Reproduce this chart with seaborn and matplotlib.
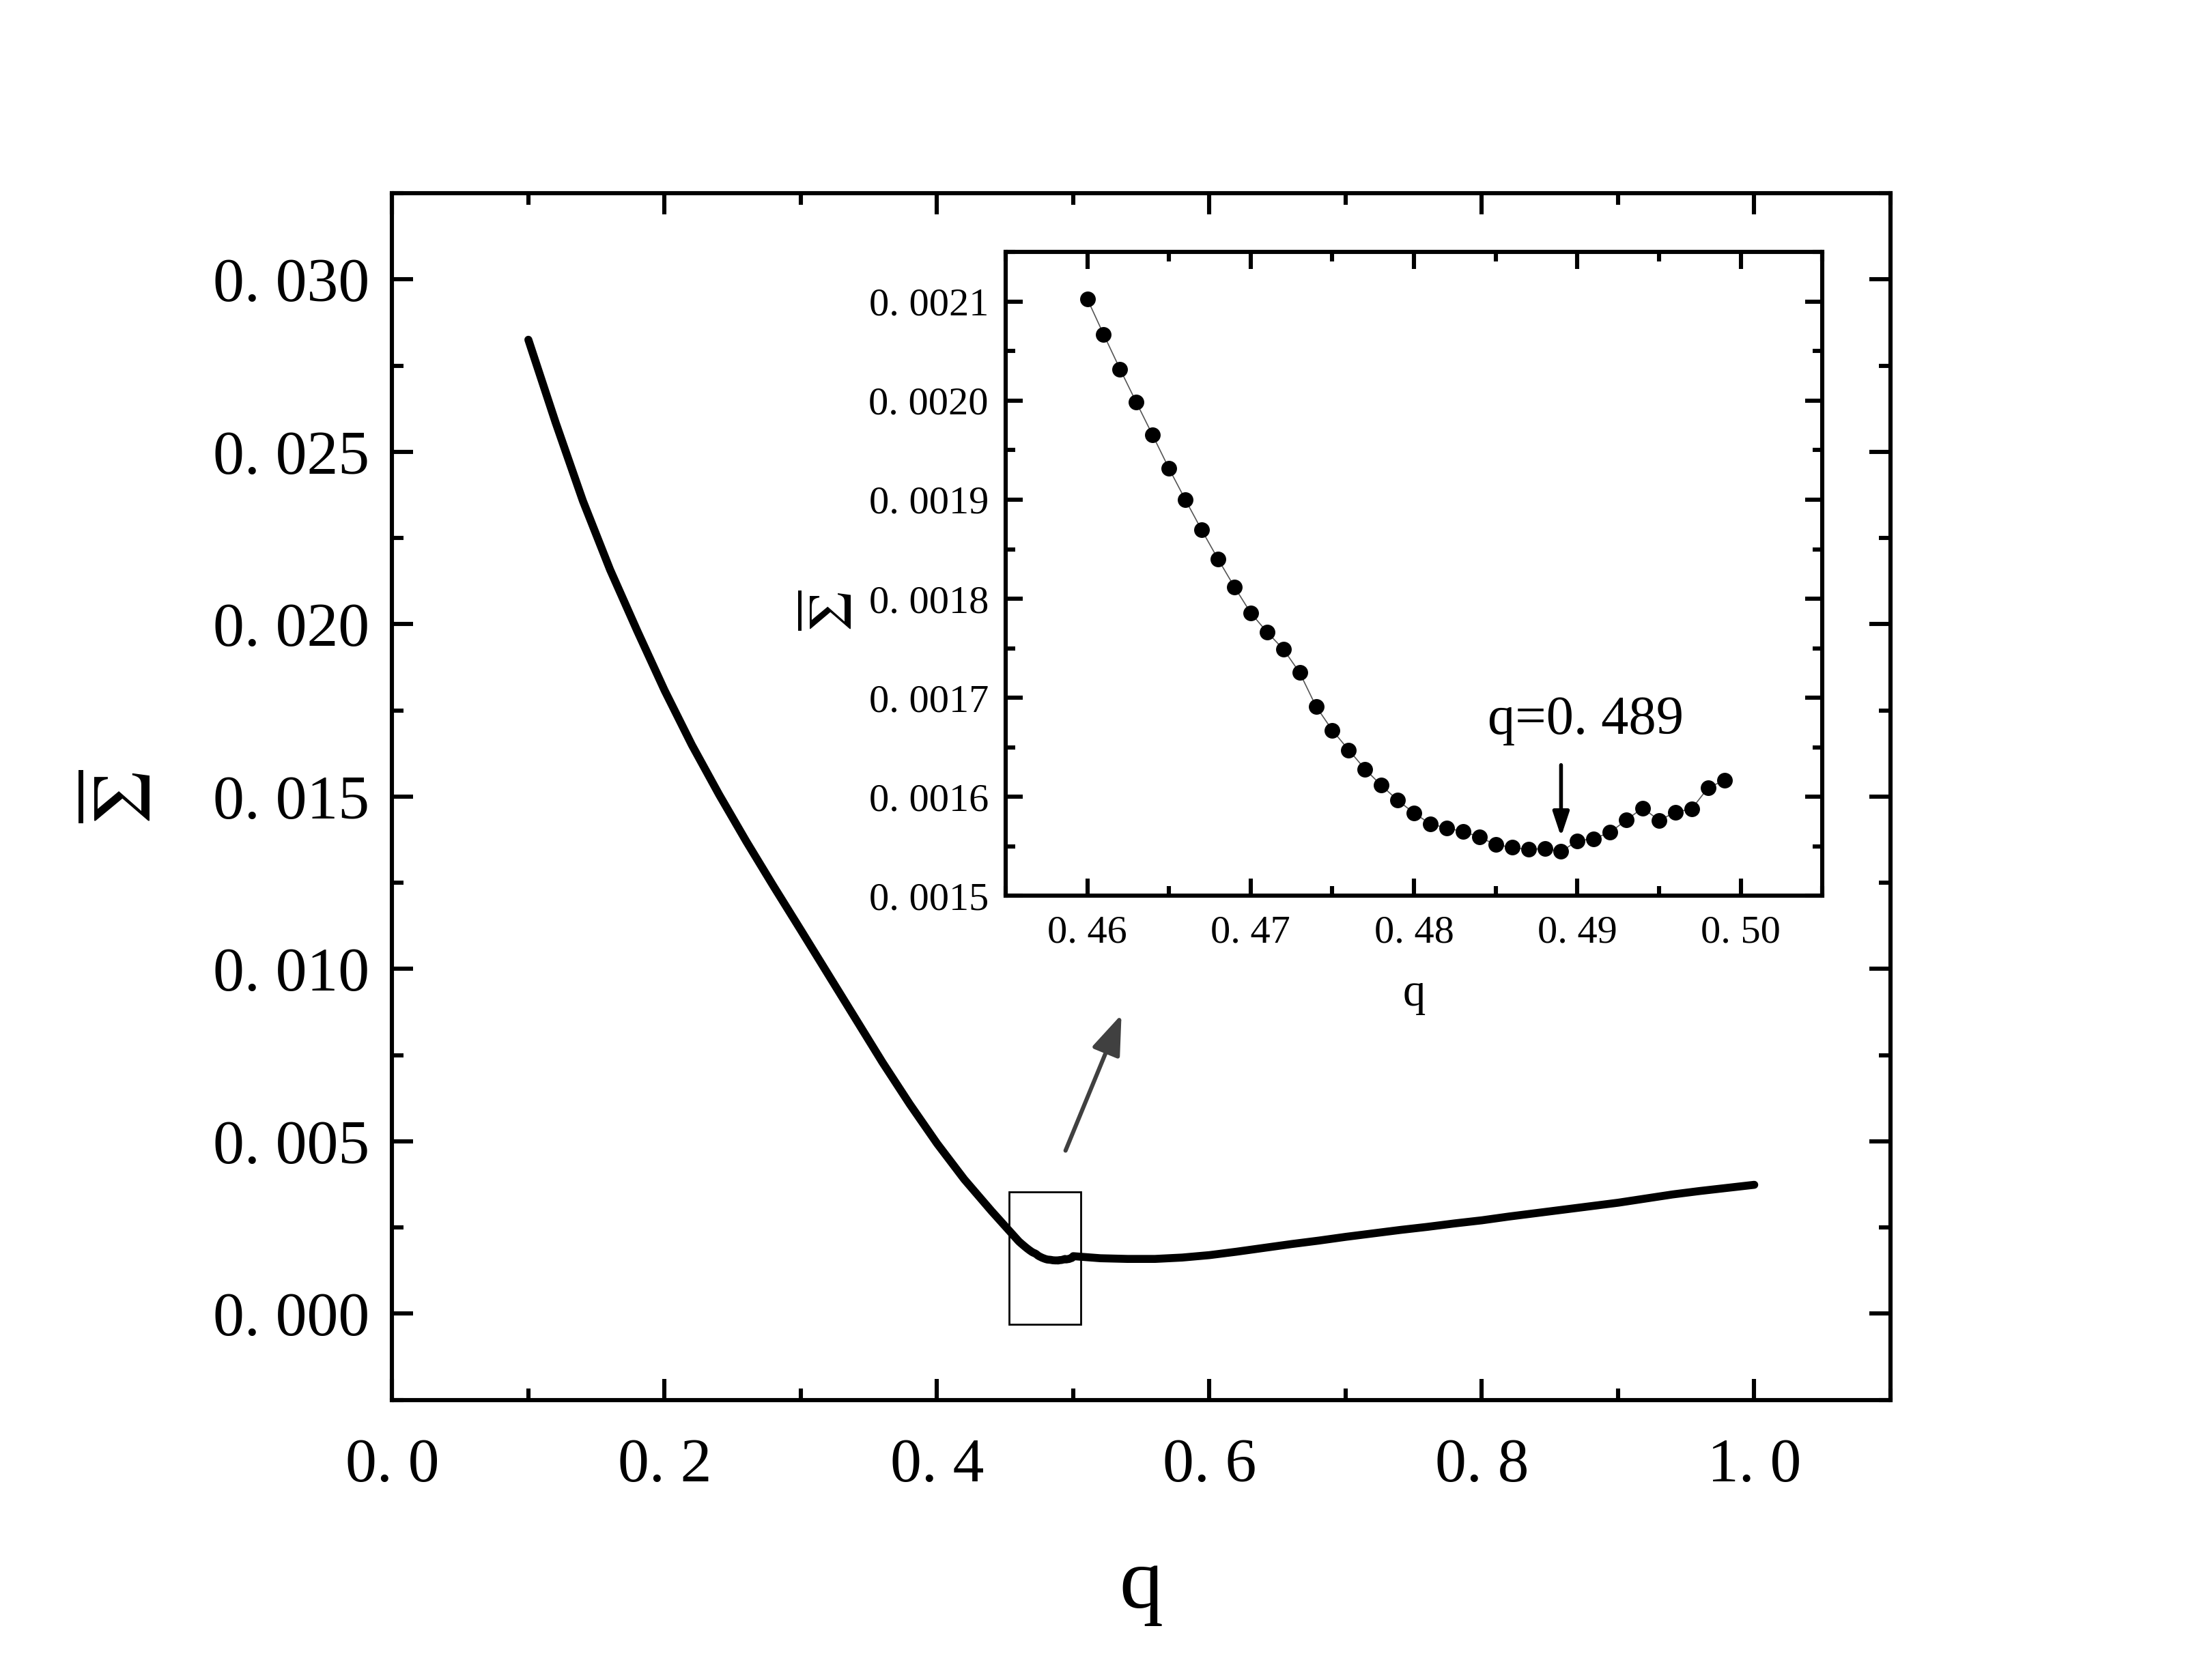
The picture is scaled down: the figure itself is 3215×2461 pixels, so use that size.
"""Sigma-bar vs q with a zoomed inset around the minimum."""
import matplotlib
matplotlib.use("Agg")
import matplotlib.pyplot as plt
from matplotlib.ticker import FuncFormatter, MultipleLocator
from matplotlib.patches import Rectangle
import pandas as pd
import seaborn as sns

sns.set_theme(style="ticks")
plt.rcParams["font.family"] = ["Liberation Serif", "DejaVu Serif"]
plt.rcParams["mathtext.fontset"] = "stix"
plt.rcParams["text.color"] = "black"
plt.rcParams["axes.labelcolor"] = "black"

# main curve (lower branch, upper branch)
q_low = [0.10, 0.12, 0.14, 0.16, 0.18, 0.20, 0.22, 0.24, 0.26, 0.28, 0.30,
         0.32, 0.34, 0.36, 0.38, 0.40, 0.42, 0.44]
s_low = [0.02825, 0.02585, 0.02358, 0.02158, 0.01980, 0.01808, 0.01650,
         0.01506, 0.01370, 0.01240, 0.01113, 0.00985, 0.00857, 0.00729,
         0.00608, 0.00494, 0.00390, 0.00298]
q_high = [0.50, 0.52, 0.54, 0.56, 0.58, 0.60, 0.62, 0.64, 0.66, 0.68, 0.70,
          0.72, 0.74, 0.76, 0.78, 0.80, 0.82, 0.84, 0.86, 0.88, 0.90, 0.92,
          0.94, 0.96, 0.98, 1.00]
s_high = [0.00167, 0.00161, 0.00159, 0.00159, 0.00163, 0.00170, 0.00180,
          0.00191, 0.00202, 0.00212, 0.00223, 0.00233, 0.00243, 0.00252,
          0.00262, 0.00271, 0.00282, 0.00292, 0.00302, 0.00312, 0.00322,
          0.00334, 0.00346, 0.00356, 0.00365, 0.00374]

# inset points q = 0.460 ... 0.499
q_zoom = [0.460, 0.461, 0.462, 0.463, 0.464, 0.465, 0.466, 0.467, 0.468, 0.469,
          0.470, 0.471, 0.472, 0.473, 0.474, 0.475, 0.476, 0.477, 0.478, 0.479,
          0.480, 0.481, 0.482, 0.483, 0.484, 0.485, 0.486, 0.487, 0.488, 0.489,
          0.490, 0.491, 0.492, 0.493, 0.494, 0.495, 0.496, 0.497, 0.498, 0.499]
s_zoom = [0.0021026, 0.0020668, 0.0020319, 0.0019983, 0.0019651, 0.0019315,
          0.0019000, 0.0018694, 0.0018401, 0.0018121, 0.0017858, 0.0017664,
          0.0017491, 0.0017254, 0.0016914, 0.0016672, 0.0016474, 0.0016280,
          0.0016116, 0.0015966, 0.0015836, 0.0015728, 0.0015685, 0.0015651,
          0.0015595, 0.0015517, 0.0015491, 0.0015470, 0.0015478, 0.0015448,
          0.0015556, 0.0015578, 0.0015642, 0.0015767, 0.0015888, 0.0015763,
          0.0015845, 0.0015880, 0.0016091, 0.0016168]

q_min = 0.489

main = pd.DataFrame({"q": q_low + q_zoom + q_high, "s": s_low + s_zoom + s_high})
zoom = pd.DataFrame({"q": q_zoom, "s": s_zoom})


def spaced(fmt):
    return FuncFormatter(lambda v, _: fmt.format(v).replace(".", ". "))


def frame(a, lw=2.2):
    for sp in a.spines.values():
        sp.set_linewidth(lw)
        sp.set_color("black")


fig = plt.figure(figsize=(16.08, 12.305), dpi=200)
ax = fig.add_axes([0.1786, 0.1667, 0.6824, 0.7183])

sns.lineplot(data=main, x="q", y="s", ax=ax, color="black", lw=4.2,
             estimator=None, sort=True)
ax.set_xlim(0, 1.1)
ax.set_ylim(-0.0025, 0.0325)
ax.xaxis.set_major_locator(MultipleLocator(0.2))
ax.xaxis.set_minor_locator(MultipleLocator(0.1))
ax.yaxis.set_major_locator(MultipleLocator(0.005))
ax.yaxis.set_minor_locator(MultipleLocator(0.0025))
ax.xaxis.set_major_formatter(spaced("{:.1f}"))
ax.yaxis.set_major_formatter(spaced("{:.3f}"))
ax.tick_params(which="both", direction="in", top=True, right=True, width=2.2,
               labelsize=33, color="black", labelcolor="black")
ax.tick_params(which="major", length=11)
ax.tick_params(which="minor", length=6)
ax.tick_params(axis="x", pad=20)
ax.tick_params(axis="y", pad=12)
frame(ax)
ax.set_xlabel("q", fontsize=46, labelpad=28)
ax.set_ylabel(r"$\overline{\Sigma}$", fontsize=44, labelpad=23)

# box around the zoomed region and the arrow to the inset
ax.add_patch(Rectangle((0.453, -0.0003), 0.0525, 0.00384, fill=False,
                       ec="black", lw=1.0))
ax.annotate("", xy=(0.5365, 0.00878), xytext=(0.4933, 0.00463),
            arrowprops=dict(arrowstyle="-|>,head_length=1.5,head_width=0.55",
                            color="#404040", lw=2.2))

# inset
ins = fig.add_axes([0.458, 0.4667, 0.372, 0.3833])
sns.lineplot(data=zoom, x="q", y="s", ax=ins, color="#555555", lw=0.6,
             estimator=None)
sns.scatterplot(data=zoom, x="q", y="s", ax=ins, color="black", s=60,
                edgecolor="black", linewidth=0.5, zorder=3)
ins.set_xlim(0.455, 0.505)
ins.set_ylim(0.0015, 0.00215)
ins.xaxis.set_major_locator(MultipleLocator(0.01))
ins.xaxis.set_minor_locator(MultipleLocator(0.005))
ins.yaxis.set_major_locator(MultipleLocator(0.0001))
ins.yaxis.set_minor_locator(MultipleLocator(0.00005))
ins.xaxis.set_major_formatter(spaced("{:.2f}"))
ins.yaxis.set_major_formatter(spaced("{:.4f}"))
ins.tick_params(which="both", direction="in", top=True, right=True, width=2.2,
                labelsize=21, color="black", labelcolor="black")
ins.tick_params(which="major", length=9)
ins.tick_params(which="minor", length=5)
ins.tick_params(axis="x", pad=10)
ins.tick_params(axis="y", pad=9)
frame(ins)
ins.set_xlabel("q", fontsize=24, labelpad=12)
ins.set_ylabel(r"$\overline{\Sigma}$", fontsize=33)
ins.yaxis.set_label_coords(-0.172, 0.443)

ins.annotate("", xy=(q_min, 0.001556), xytext=(q_min, 0.001636),
             arrowprops=dict(arrowstyle="-|>,head_length=0.9,head_width=0.3",
                             color="black", lw=2.0))
ins.text(0.4905, 0.001677, "q=0. 489", fontsize=29, ha="center", va="center")

fig.savefig("out.png", dpi=200)
plt.close(fig)
